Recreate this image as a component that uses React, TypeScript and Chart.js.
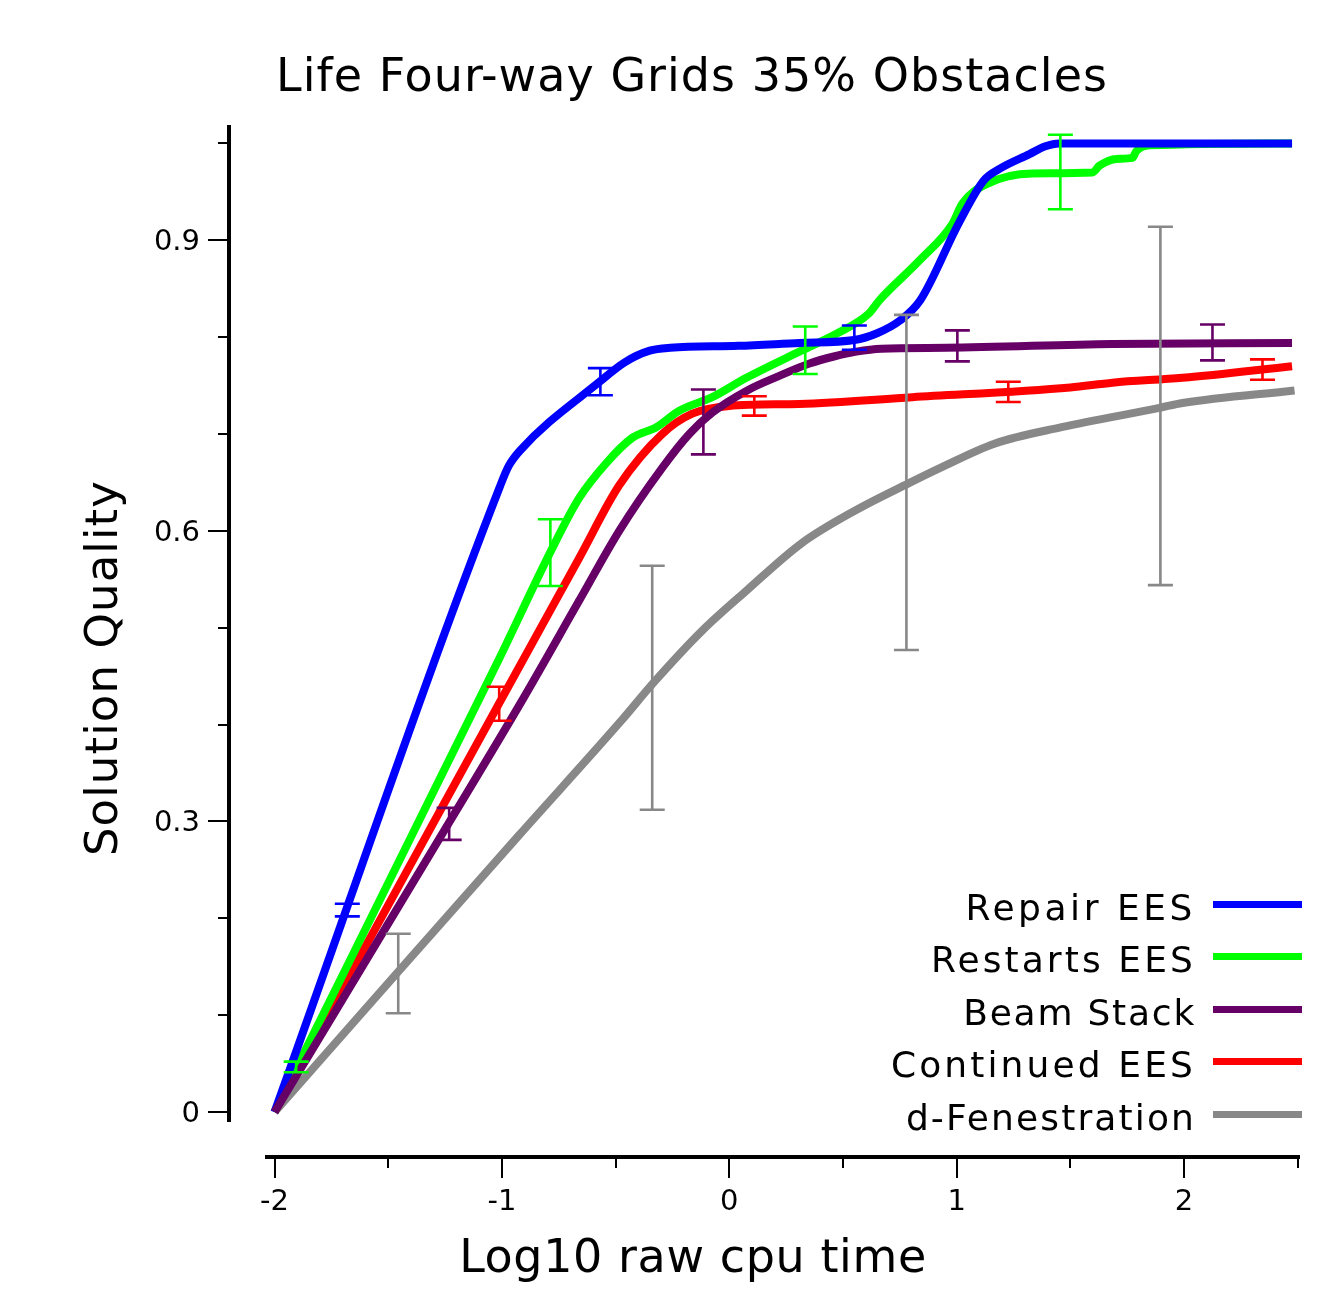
import { useEffect, useRef } from "react";
import { Chart, registerables } from "chart.js";

Chart.register(...registerables);

// ---------- data ----------
const seriesNames = ["Repair EES", "Restarts EES", "Beam Stack", "Continued EES", "d-Fenestration"];
const seriesColors = ["#0000ff", "#00ff00", "#660066", "#ff0000", "#888888"];

const repairX = [-2, -1.01, -0.97, -0.92, -0.57, -0.46, -0.35, -0.26, 0.04, 0.31, 0.55, 0.65, 0.75, 0.84, 1.01, 1.12, 1.19, 1.32, 1.39, 1.45, 2.475];
const repairY = [0, 0.645, 0.667, 0.683, 0.754, 0.774, 0.786, 0.789, 0.791, 0.794, 0.797, 0.804, 0.817, 0.838, 0.918, 0.962, 0.974, 0.989, 0.997, 1.0, 1.0];

const restartsX = [-2, -1.012, -0.787, -0.66, -0.541, -0.427, -0.321, -0.22, -0.075, 0.075, 0.317, 0.475, 0.612, 0.66, 0.836, 0.981, 1.025, 1.131, 1.333, 1.597, 1.628, 1.703, 1.773, 1.79, 1.848, 2.475];
const restartsY = [0, 0.468, 0.578, 0.634, 0.67, 0.696, 0.707, 0.724, 0.738, 0.758, 0.786, 0.804, 0.824, 0.838, 0.879, 0.917, 0.938, 0.958, 0.969, 0.97, 0.977, 0.984, 0.985, 0.992, 0.998, 1.0];

const beamX = [-2, -1.232, -0.911, -0.66, -0.484, -0.295, -0.176, -0.075, 0.079, 0.22, 0.356, 0.46, 0.559, 0.669, 0.955, 1.685, 2.475];
const beamY = [0, 0.299, 0.425, 0.528, 0.6, 0.665, 0.7, 0.722, 0.745, 0.76, 0.773, 0.78, 0.785, 0.788, 0.789, 0.793, 0.794];

const continuedX = [-2, -1.012, -0.66, -0.484, -0.295, -0.163, 0, 0.308, 0.805, 1.5, 1.685, 1.993, 2.475];
const continuedY = [0, 0.422, 0.572, 0.647, 0.7, 0.721, 0.729, 0.731, 0.738, 0.748, 0.753, 0.758, 0.77];

const fenX = [-2, -1.452, -0.924, -0.475, -0.334, -0.119, 0.079, 0.317, 0.554, 0.788, 0.928, 1.166, 1.461, 1.892, 1.993, 2.486];
const fenY = [0, 0.146, 0.286, 0.404, 0.443, 0.497, 0.539, 0.587, 0.621, 0.649, 0.665, 0.69, 0.707, 0.727, 0.732, 0.745];

// error bars: x position, low, high
const repairErrX = [-1.68, -0.567, 0.55];
const repairErrLo = [0.202, 0.74, 0.787];
const repairErrHi = [0.215, 0.768, 0.812];

const restartsErrX = [-1.905, -0.787, 0.334, 1.456];
const restartsErrLo = [0.041, 0.543, 0.762, 0.932];
const restartsErrHi = [0.052, 0.612, 0.811, 1.009];

const beamErrX = [-1.232, -0.114, 1.003, 2.125];
const beamErrLo = [0.281, 0.679, 0.775, 0.776];
const beamErrHi = [0.314, 0.746, 0.807, 0.813];

const continuedErrX = [-1.012, 0.11, 1.227, 2.345];
const continuedErrLo = [0.404, 0.719, 0.733, 0.756];
const continuedErrHi = [0.439, 0.739, 0.754, 0.777];

const fenErrX = [-1.456, -0.339, 0.779, 1.896];
const fenErrLo = [0.102, 0.312, 0.477, 0.544];
const fenErrHi = [0.184, 0.564, 0.823, 0.914];

// axes
const xMajorTicks = [-2, -1, 0, 1, 2];
const xTickLabels = ["-2", "-1", "0", "1", "2"];
const xMinorTicks = [-1.5, -0.5, 0.5, 1.5, 2.5];
const yMajorTicks = [0, 0.3, 0.6, 0.9];
const yTickLabels = ["0", "0.3", "0.6", "0.9"];
const yMinorTicks = [0.1, 0.2, 0.4, 0.5, 0.7, 0.8, 1.0];

const chartTitle = "Life Four-way Grids 35% Obstacles";
const xAxisTitle = "Log10 raw cpu time";
const yAxisTitle = "Solution Quality";

const X_MIN = -2.02;
const X_MAX = 2.51;
const Y_MIN = -0.0103;
const Y_MAX = 1.019;

const FONT = '"DejaVu Sans", sans-serif';

const lineXs = [repairX, restartsX, beamX, continuedX, fenX];
const lineYs = [repairY, restartsY, beamY, continuedY, fenY];
const errXs = [repairErrX, restartsErrX, beamErrX, continuedErrX, fenErrX];
const errLos = [repairErrLo, restartsErrLo, beamErrLo, continuedErrLo, fenErrLo];
const errHis = [repairErrHi, restartsErrHi, beamErrHi, continuedErrHi, fenErrHi];
const drawOrder = [2, 3, 1, 4, 5];
const legendWidths = [227, 262, 231, 302, 288];

function fitText(ctx: CanvasRenderingContext2D, text: string, size: number, target: number) {
  ctx.font = `${size}px ${FONT}`;
  (ctx as any).letterSpacing = "0px";
  const w = ctx.measureText(text).width;
  const n = Math.max(1, text.length - 1);
  const sp = (target - w) / n;
  (ctx as any).letterSpacing = `${sp}px`;
}

const errorBarPlugin = {
  id: "errorBars",
  afterDatasetsDraw(chart: any) {
    const ctx = chart.ctx as CanvasRenderingContext2D;
    const xs = chart.scales.x;
    const ys = chart.scales.y;
    ctx.save();
    ctx.lineWidth = 2.6;
    ctx.lineCap = "butt";
    for (let s = 0; s < errXs.length; s++) {
      ctx.strokeStyle = seriesColors[s];
      for (let i = 0; i < errXs[s].length; i++) {
        const px = xs.getPixelForValue(errXs[s][i]);
        const lo = ys.getPixelForValue(errLos[s][i]);
        const hi = ys.getPixelForValue(errHis[s][i]);
        ctx.beginPath();
        ctx.moveTo(px, lo);
        ctx.lineTo(px, hi);
        ctx.moveTo(px - 12.5, lo);
        ctx.lineTo(px + 12.5, lo);
        ctx.moveTo(px - 12.5, hi);
        ctx.lineTo(px + 12.5, hi);
        ctx.stroke();
      }
    }
    ctx.restore();
  },
};

const axesPlugin = {
  id: "customAxes",
  afterDraw(chart: any) {
    const ctx = chart.ctx as CanvasRenderingContext2D;
    const xs = chart.scales.x;
    const ys = chart.scales.y;
    const area = chart.chartArea;
    ctx.save();
    ctx.fillStyle = "#000";
    ctx.strokeStyle = "#000";

    // y spine
    const yAxisX = area.left - 41;
    ctx.fillRect(yAxisX - 2, area.top, 4, area.bottom - area.top);
    ctx.lineWidth = 2;
    for (const v of yMajorTicks) {
      const py = Math.round(ys.getPixelForValue(v));
      ctx.beginPath();
      ctx.moveTo(yAxisX - 21, py);
      ctx.lineTo(yAxisX, py);
      ctx.stroke();
    }
    for (const v of yMinorTicks) {
      const py = Math.round(ys.getPixelForValue(v));
      ctx.beginPath();
      ctx.moveTo(yAxisX - 11, py);
      ctx.lineTo(yAxisX, py);
      ctx.stroke();
    }
    // y tick labels
    ctx.font = `29px ${FONT}`;
    ctx.textAlign = "right";
    ctx.textBaseline = "alphabetic";
    for (let i = 0; i < yMajorTicks.length; i++) {
      const py = ys.getPixelForValue(yMajorTicks[i]);
      ctx.fillText(yTickLabels[i], yAxisX - 29, py + 10);
    }

    // x spine
    const xAxisY = area.bottom + 35;
    ctx.fillRect(area.left - 5, xAxisY - 2, area.right - area.left + 5, 4);
    for (const v of xMajorTicks) {
      const px = Math.round(xs.getPixelForValue(v));
      ctx.beginPath();
      ctx.moveTo(px, xAxisY);
      ctx.lineTo(px, xAxisY + 21);
      ctx.stroke();
    }
    for (const v of xMinorTicks) {
      const px = Math.round(xs.getPixelForValue(v));
      ctx.beginPath();
      ctx.moveTo(px, xAxisY);
      ctx.lineTo(px, xAxisY + 11);
      ctx.stroke();
    }
    ctx.font = `29px ${FONT}`;
    ctx.textAlign = "center";
    for (let i = 0; i < xMajorTicks.length; i++) {
      const px = xs.getPixelForValue(xMajorTicks[i]);
      ctx.fillText(xTickLabels[i], px, xAxisY + 53);
    }

    // title
    ctx.textAlign = "center";
    fitText(ctx, chartTitle, 46, 831);
    ctx.fillText(chartTitle, 692, 91);

    // x title
    fitText(ctx, xAxisTitle, 46, 467);
    ctx.fillText(xAxisTitle, 693, 1272);

    // y title
    ctx.save();
    ctx.translate(117, 668);
    ctx.rotate(-Math.PI / 2);
    fitText(ctx, yAxisTitle, 45, 375);
    ctx.fillText(yAxisTitle, 0, 0);
    ctx.restore();

    // legend
    const legendBase = [920, 972, 1025, 1077, 1130];
    for (let i = 0; i < seriesNames.length; i++) {
      ctx.textAlign = "right";
      fitText(ctx, seriesNames[i], 36, legendWidths[i]);
      ctx.fillStyle = "#000";
      ctx.fillText(seriesNames[i], 1196, legendBase[i]);
      ctx.fillStyle = seriesColors[i];
      ctx.fillRect(1213, legendBase[i] - 19, 89, 7);
    }
    ctx.restore();
  },
};

export default function App() {
  const canvasRef = useRef<HTMLCanvasElement | null>(null);

  useEffect(() => {
    document.body.style.margin = "0";
    const canvas = canvasRef.current;
    if (!canvas) return;
    const datasets = seriesNames.map((name, s) => ({
      label: name,
      data: lineXs[s].map((x, i) => ({ x, y: lineYs[s][i] })),
      borderColor: seriesColors[s],
      backgroundColor: seriesColors[s],
      borderWidth: 8,
      pointRadius: 0,
      cubicInterpolationMode: "monotone" as const,
      fill: false,
      borderCapStyle: "butt" as const,
      borderJoinStyle: "round" as const,
      order: drawOrder[s],
    }));
    const chart = new Chart(canvas, {
      type: "line",
      data: { datasets },
      options: {
        responsive: false,
        animation: false,
        devicePixelRatio: 1,
        layout: { padding: { left: 270, right: 22, top: 125, bottom: 183 } },
        plugins: { legend: { display: false }, title: { display: false }, tooltip: { enabled: false } },
        scales: {
          x: { type: "linear", min: X_MIN, max: X_MAX, display: false },
          y: { type: "linear", min: Y_MIN, max: Y_MAX, display: false },
        },
      },
      plugins: [errorBarPlugin, axesPlugin],
    });
    return () => chart.destroy();
  }, []);

  return (
    <canvas
      ref={canvasRef}
      width={1322}
      height={1305}
      style={{ display: "block", width: 1322, height: 1305, background: "#fff" }}
    />
  );
}
